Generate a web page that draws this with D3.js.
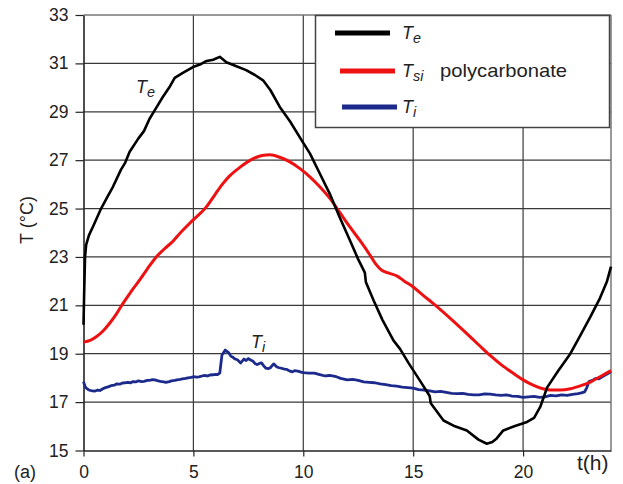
<!DOCTYPE html>
<html><head><meta charset="utf-8">
<script src="https://cdn.jsdelivr.net/npm/d3@7"></script>
<style>
body{margin:0;background:#fff;}
text{font-family:"Liberation Sans",Arial,Helvetica,sans-serif;fill:#222;}
</style></head>
<body><svg id="c" width="623" height="484"></svg>
<script>
const xTicks=[0,5,10,15,20];
const yTicks=[15,17,19,21,23,25,27,29,31,33];
const TeData=[[0,20.2],[0.03,21.5],[0.07,23.0],[0.12,23.5],[0.25,23.9],[0.43,24.25],[0.8,25.0],[1.1,25.5],[1.34,25.9],[1.7,26.6],[1.9,26.9],[2.1,27.35],[2.5,27.9],[2.75,28.2],[3.0,28.7],[3.3,29.15],[3.6,29.6],[3.9,30.0],[4.15,30.4],[4.5,30.6],[4.98,30.85],[5.3,30.95],[5.6,31.1],[5.9,31.15],[6.2,31.27],[6.5,31.05],[6.9,30.9],[7.4,30.72],[7.8,30.52],[8.17,30.3],[8.5,29.9],[8.93,29.2],[9.4,28.6],[9.92,27.83],[10.3,27.28],[10.75,26.45],[11.2,25.62],[11.65,24.65],[12.12,23.69],[12.5,22.9],[12.8,22.35],[12.85,21.95],[13.2,21.2],[13.6,20.4],[14.1,19.55],[14.4,19.2],[14.8,18.6],[15.3,17.9],[15.75,17.25],[15.8,16.95],[16.38,16.24],[16.9,16.0],[17.44,15.83],[17.97,15.45],[18.35,15.28],[18.6,15.35],[18.8,15.5],[19.1,15.83],[19.6,16.0],[20.18,16.18],[20.5,16.35],[20.78,16.8],[21.09,17.6],[21.6,18.3],[22.15,19.0],[22.6,19.75],[23.06,20.52],[23.5,21.3],[23.82,22.0],[24.0,22.6]];
const TsiData=[[0,19.48],[0.3,19.55],[0.58,19.7],[0.9,19.95],[1.18,20.25],[1.5,20.65],[1.79,21.07],[2.15,21.55],[2.55,22.04],[2.9,22.5],[3.31,23.0],[3.7,23.35],[4.07,23.65],[4.38,23.97],[4.98,24.52],[5.59,25.07],[6.0,25.6],[6.35,26.04],[6.65,26.35],[7.11,26.7],[7.5,26.95],[7.87,27.12],[8.2,27.2],[8.48,27.22],[8.93,27.12],[9.39,26.93],[9.85,26.65],[10.3,26.31],[10.75,25.9],[11.21,25.42],[11.65,24.85],[12.12,24.24],[12.6,23.65],[13.04,23.07],[13.3,22.7],[13.57,22.45],[13.9,22.33],[14.25,22.22],[14.6,22.0],[15.0,21.76],[15.4,21.45],[15.92,21.07],[16.7,20.45],[17.44,19.83],[18.0,19.35],[18.5,18.93],[19.0,18.55],[19.57,18.18],[20.0,17.92],[20.48,17.69],[20.9,17.55],[21.24,17.5],[21.7,17.5],[22.15,17.55],[22.6,17.67],[23.06,17.83],[23.5,18.05],[24.0,18.3]];
const TiData=[[0,17.85],[0.05,17.7],[0.1,17.6],[0.25,17.5],[0.4,17.46],[0.5,17.45],[0.65,17.5],[0.75,17.48],[0.9,17.56],[1.0,17.6],[1.15,17.64],[1.25,17.68],[1.4,17.7],[1.5,17.75],[1.65,17.74],[1.75,17.78],[1.9,17.8],[2.0,17.82],[2.15,17.8],[2.25,17.85],[2.4,17.84],[2.5,17.88],[2.65,17.85],[2.75,17.86],[2.9,17.9],[3.0,17.9],[3.15,17.93],[3.25,17.92],[3.4,17.88],[3.5,17.86],[3.65,17.84],[3.75,17.82],[3.9,17.85],[4.0,17.88],[4.15,17.9],[4.25,17.92],[4.4,17.94],[4.5,17.96],[4.65,17.98],[4.75,18.0],[4.9,18.02],[5.0,18.05],[5.15,18.03],[5.25,18.04],[5.4,18.08],[5.5,18.1],[5.65,18.08],[5.75,18.12],[5.9,18.13],[6.0,18.15],[6.1,18.14],[6.2,18.2],[6.3,18.95],[6.45,19.15],[6.6,19.05],[6.7,18.9],[6.8,18.85],[6.9,18.78],[7.0,18.75],[7.15,18.62],[7.3,18.78],[7.4,18.72],[7.5,18.8],[7.6,18.74],[7.7,18.7],[7.8,18.6],[7.9,18.55],[8.0,18.6],[8.1,18.62],[8.2,18.5],[8.3,18.4],[8.4,18.38],[8.5,18.42],[8.65,18.58],[8.8,18.45],[8.9,18.42],[9.0,18.4],[9.15,18.36],[9.25,18.35],[9.4,18.28],[9.5,18.25],[9.6,18.3],[9.75,18.28],[9.9,18.24],[10.0,18.22],[10.25,18.2],[10.5,18.2],[10.75,18.14],[11.0,18.08],[11.2,18.1],[11.5,18.05],[11.7,17.98],[12.0,17.92],[12.25,17.94],[12.5,17.9],[12.75,17.84],[13.0,17.82],[13.25,17.8],[13.5,17.75],[13.75,17.72],[14.0,17.68],[14.25,17.66],[14.5,17.62],[14.75,17.6],[15.0,17.58],[15.25,17.52],[15.5,17.5],[15.75,17.46],[16.0,17.42],[16.25,17.44],[16.5,17.4],[16.75,17.36],[17.0,17.35],[17.25,17.36],[17.5,17.32],[17.75,17.3],[18.0,17.3],[18.25,17.34],[18.5,17.33],[18.75,17.3],[19.0,17.28],[19.25,17.3],[19.5,17.25],[19.75,17.24],[20.0,17.2],[20.25,17.22],[20.5,17.24],[20.75,17.2],[21.0,17.22],[21.25,17.28],[21.5,17.26],[21.75,17.3],[22.0,17.28],[22.25,17.32],[22.5,17.35],[22.65,17.38],[22.8,17.42],[22.9,17.6],[23.0,17.85],[23.15,17.9],[23.3,17.98],[23.45,17.96],[23.6,18.05],[23.8,18.15],[24.0,18.25]];

const W=623,H=484;
const m={l:83.5,t:15,r:12,b:33.5};
const svg=d3.select("#c");
const x=d3.scaleLinear().domain([0,24]).range([m.l,W-m.r]);
const y=d3.scaleLinear().domain([15,33]).range([H-m.b,m.t]);

// gridlines
const g=svg.append("g");
g.selectAll(".hg").data(yTicks.slice(1,-1)).enter().append("line")
 .attr("x1",x(0)).attr("x2",x(24)).attr("y1",d=>y(d)).attr("y2",d=>y(d))
 .attr("stroke","#3a3a3a").attr("stroke-width",1.2);
g.selectAll(".vg").data(xTicks.slice(1)).enter().append("line")
 .attr("y1",y(15)).attr("y2",y(33)).attr("x1",d=>x(d)).attr("x2",d=>x(d))
 .attr("stroke","#3a3a3a").attr("stroke-width",1.2);
// frame top/right
svg.append("line").attr("x1",x(0)).attr("x2",x(24)).attr("y1",y(33)).attr("y2",y(33)).attr("stroke","#777").attr("stroke-width",1.5);
svg.append("line").attr("x1",x(24)).attr("x2",x(24)).attr("y1",y(33)).attr("y2",y(15)).attr("stroke","#777").attr("stroke-width",1.5);

// axes
const yAxis=svg.append("g").attr("transform",`translate(${x(0)},0)`)
 .call(d3.axisLeft(y).tickValues(yTicks).tickSize(8).tickPadding(7).tickSizeOuter(0));
const xAxis=svg.append("g").attr("transform",`translate(0,${y(15)})`)
 .call(d3.axisBottom(x).tickValues(xTicks).tickSize(6).tickPadding(9).tickSizeOuter(0));
[yAxis,xAxis].forEach(a=>{
 a.select(".domain").attr("stroke","#222").attr("stroke-width",1.6);
 a.selectAll(".tick line").attr("stroke","#222").attr("stroke-width",1.2);
 a.selectAll(".tick text").attr("font-size",17.5).attr("fill","#222")
  .attr("font-family","'Liberation Sans',Arial,sans-serif");
});

// lines
const line=d3.line().x(d=>x(d[0])).y(d=>y(d[1]));
svg.append("path").datum(TiData).attr("d",line).attr("fill","none").attr("stroke","#1c2a8c").attr("stroke-width",2.8).attr("stroke-linejoin","round");
svg.append("path").datum(TsiData).attr("d",d3.line().curve(d3.curveMonotoneX).x(d=>x(d[0])).y(d=>y(d[1]))).attr("fill","none").attr("stroke","#ee1111").attr("stroke-width",3).attr("stroke-linejoin","round");
svg.append("path").datum(TeData).attr("d",line).attr("fill","none").attr("stroke","#000").attr("stroke-width",2.6).attr("stroke-linejoin","round");

// curve labels
function sub(sel,main,s,px,py,fs){
 const t=sel.append("text").attr("x",px).attr("y",py).attr("font-size",fs).attr("font-style","italic");
 t.append("tspan").text(main);
 t.append("tspan").attr("dy",4).attr("font-size",fs*0.8).text(s);
 return t;
}
sub(svg,"T","e",136,93,18);
sub(svg,"T","i",251,348,18);

// legend
const lg=svg.append("g");
lg.append("rect").attr("x",315.5).attr("y",15.5).attr("width",294).attr("height",112)
 .attr("fill","#fff").attr("stroke","#444").attr("stroke-width",1.5);
const legItems=[{c:"#000",s:"e",y:33,x0:335},{c:"#ee1111",s:"si",y:71,x0:340},{c:"#1c2a8c",s:"i",y:107,x0:342}];
legItems.forEach(d=>{
 lg.append("line").attr("x1",d.x0).attr("x2",d.x0+55).attr("y1",d.y).attr("y2",d.y).attr("stroke",d.c).attr("stroke-width",5);
 sub(lg,"T",d.s,402,d.y+6,18);
});
lg.append("text").attr("x",440).attr("y",77).attr("font-size",19).attr("textLength",127).attr("lengthAdjust","spacingAndGlyphs").text("polycarbonate");

// axis titles
svg.append("text").attr("transform","translate(33,220) rotate(-90)").attr("text-anchor","middle").attr("font-size",18).text("T (°C)");
svg.append("text").attr("x",577).attr("y",470).attr("font-size",21).text("t(h)");
svg.append("text").attr("x",14).attr("y",478).attr("font-size",18).text("(a)");
</script></body></html>
